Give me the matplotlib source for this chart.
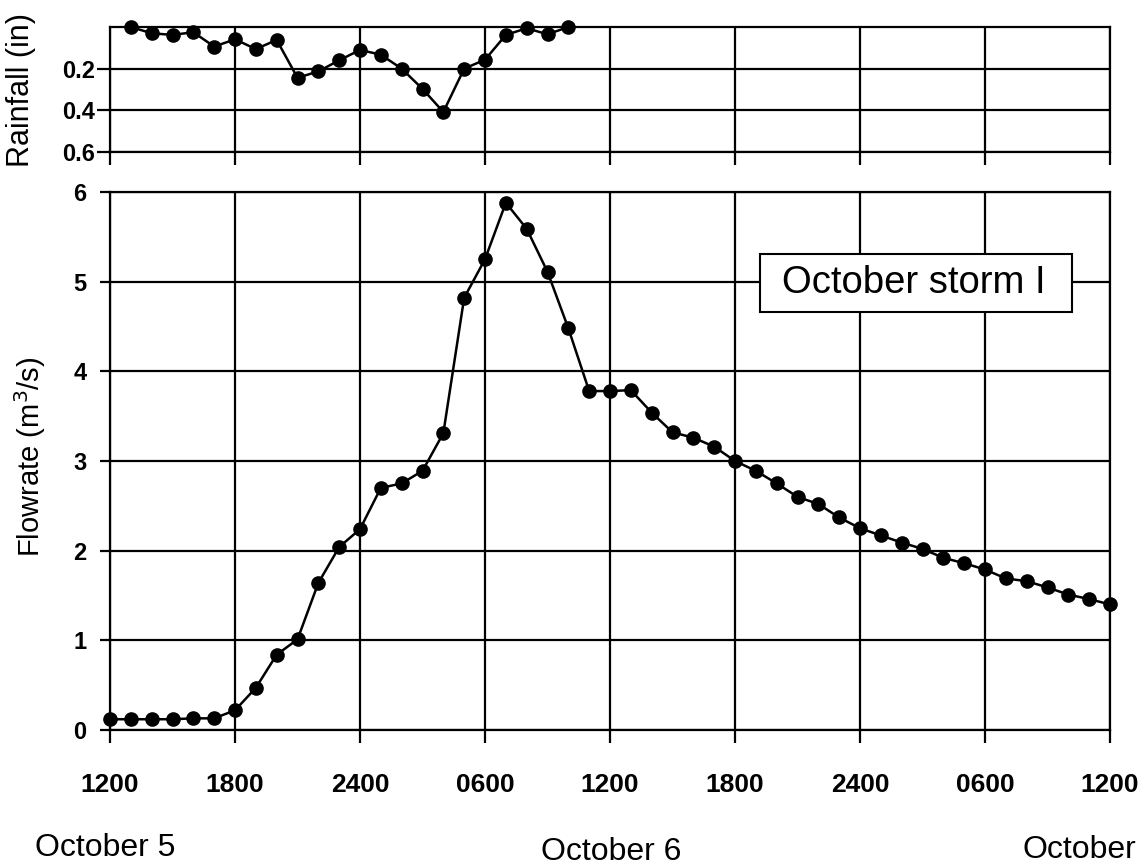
import matplotlib
matplotlib.use("Agg")
import matplotlib.pyplot as plt
from matplotlib.patches import Rectangle

plt.rcParams['font.family'] = ['Liberation Sans', 'DejaVu Sans']

# Hours after 1200 on October 5
flow_hours = list(range(0, 49))
flowrate = [0.12, 0.12, 0.12, 0.12, 0.13, 0.13, 0.22, 0.47, 0.84, 1.01,
            1.64, 2.04, 2.24, 2.70, 2.75, 2.89, 3.31, 4.82, 5.25, 5.88,
            5.59, 5.11, 4.48, 3.78, 3.78, 3.79, 3.54, 3.32, 3.26, 3.16,
            3.00, 2.89, 2.75, 2.60, 2.52, 2.37, 2.25, 2.17, 2.09, 2.02,
            1.92, 1.86, 1.79, 1.69, 1.66, 1.59, 1.51, 1.46, 1.40]

rain_hours = list(range(1, 23))
rainfall = [0.0, 0.030, 0.038, 0.025, 0.094, 0.059, 0.106, 0.062, 0.244, 0.213,
            0.160, 0.110, 0.133, 0.200, 0.297, 0.408, 0.200, 0.157, 0.038, 0.006,
            0.035, 0.0]

tick_hours = [0, 6, 12, 18, 24, 30, 36, 42, 48]
tick_labels = ["1200", "1800", "2400", "0600", "1200", "1800", "2400", "0600", "1200"]
rain_ticks = [0.2, 0.4, 0.6]
rain_tick_labels = ["0.2", "0.4", "0.6"]
flow_ticks = [0, 1, 2, 3, 4, 5, 6]

W, H = 1147, 868
fig = plt.figure(figsize=(W / 100, H / 100), dpi=100)
ax_r = fig.add_axes([110 / W, 1 - 152 / H, 1000 / W, 125 / H])
ax_f = fig.add_axes([110 / W, 1 - 730 / H, 1000 / W, 538 / H])

LW = 1.6
for ax in (ax_r, ax_f):
    ax.set_xlim(0, 48)
    ax.set_xticks(tick_hours)
    for s in ax.spines.values():
        s.set_linewidth(LW)
        s.set_color('black')
    ax.grid(True, color='black', linewidth=LW)
    ax.set_axisbelow(True)
    ax.tick_params(axis='x', direction='out', length=9, width=LW, color='black')

# Rainfall panel (inverted axis)
ax_r.set_ylim(0.6, 0.0)
ax_r.set_yticks(rain_ticks)
ax_r.set_yticklabels(rain_tick_labels, fontsize=17, fontweight='bold')
ax_r.tick_params(axis='y', direction='out', length=9.5, width=LW, color='black', pad=1.5)
ax_r.tick_params(axis='x', labelbottom=False)
ax_r.plot(rain_hours, rainfall, color='black', linewidth=1.8, marker='o',
          markersize=9.5, markerfacecolor='black', markeredgecolor='black',
          clip_on=False, zorder=5)

# Flowrate panel
ax_f.set_ylim(0, 6)
ax_f.set_yticks(flow_ticks)
ax_f.set_yticklabels([str(v) for v in flow_ticks], fontsize=17, fontweight='bold')
ax_f.tick_params(axis='y', direction='out', length=7, width=LW, color='black', pad=10)
ax_f.set_xticklabels(tick_labels, fontsize=19, fontweight='bold')
ax_f.tick_params(axis='x', pad=22)
ax_f.plot(flow_hours, flowrate, color='black', linewidth=1.8, marker='o',
          markersize=9.5, markerfacecolor='black', markeredgecolor='black',
          clip_on=False, zorder=5)

# Storm label box
ax_f.add_patch(Rectangle((31.2, 4.665), 14.98, 0.645, facecolor='white',
                         edgecolor='black', linewidth=1.5, zorder=4))
ax_f.text(38.6, 4.985, "October storm I", fontsize=27.5, ha='center', va='center',
          zorder=6)

# Axis titles
fig.text(21 / W, 1 - 90 / H, "Rainfall (in)", rotation=90, fontsize=22,
         ha='center', va='center')
fig.text(30 / W, 1 - 457 / H, "Flowrate (m$^3$/s)", rotation=90, fontsize=21,
         ha='center', va='center')

# Date labels under the time axis
fig.text(35 / W, 1 - 848 / H, "October 5", fontsize=23, ha='left', va='center')
fig.text(611 / W, 1 - 852 / H, "October 6", fontsize=23, ha='center', va='center')
fig.text(1022 / W, 1 - 850 / H, "October", fontsize=23, ha='left', va='center')

fig.savefig("out.png", dpi=100, facecolor='white')
